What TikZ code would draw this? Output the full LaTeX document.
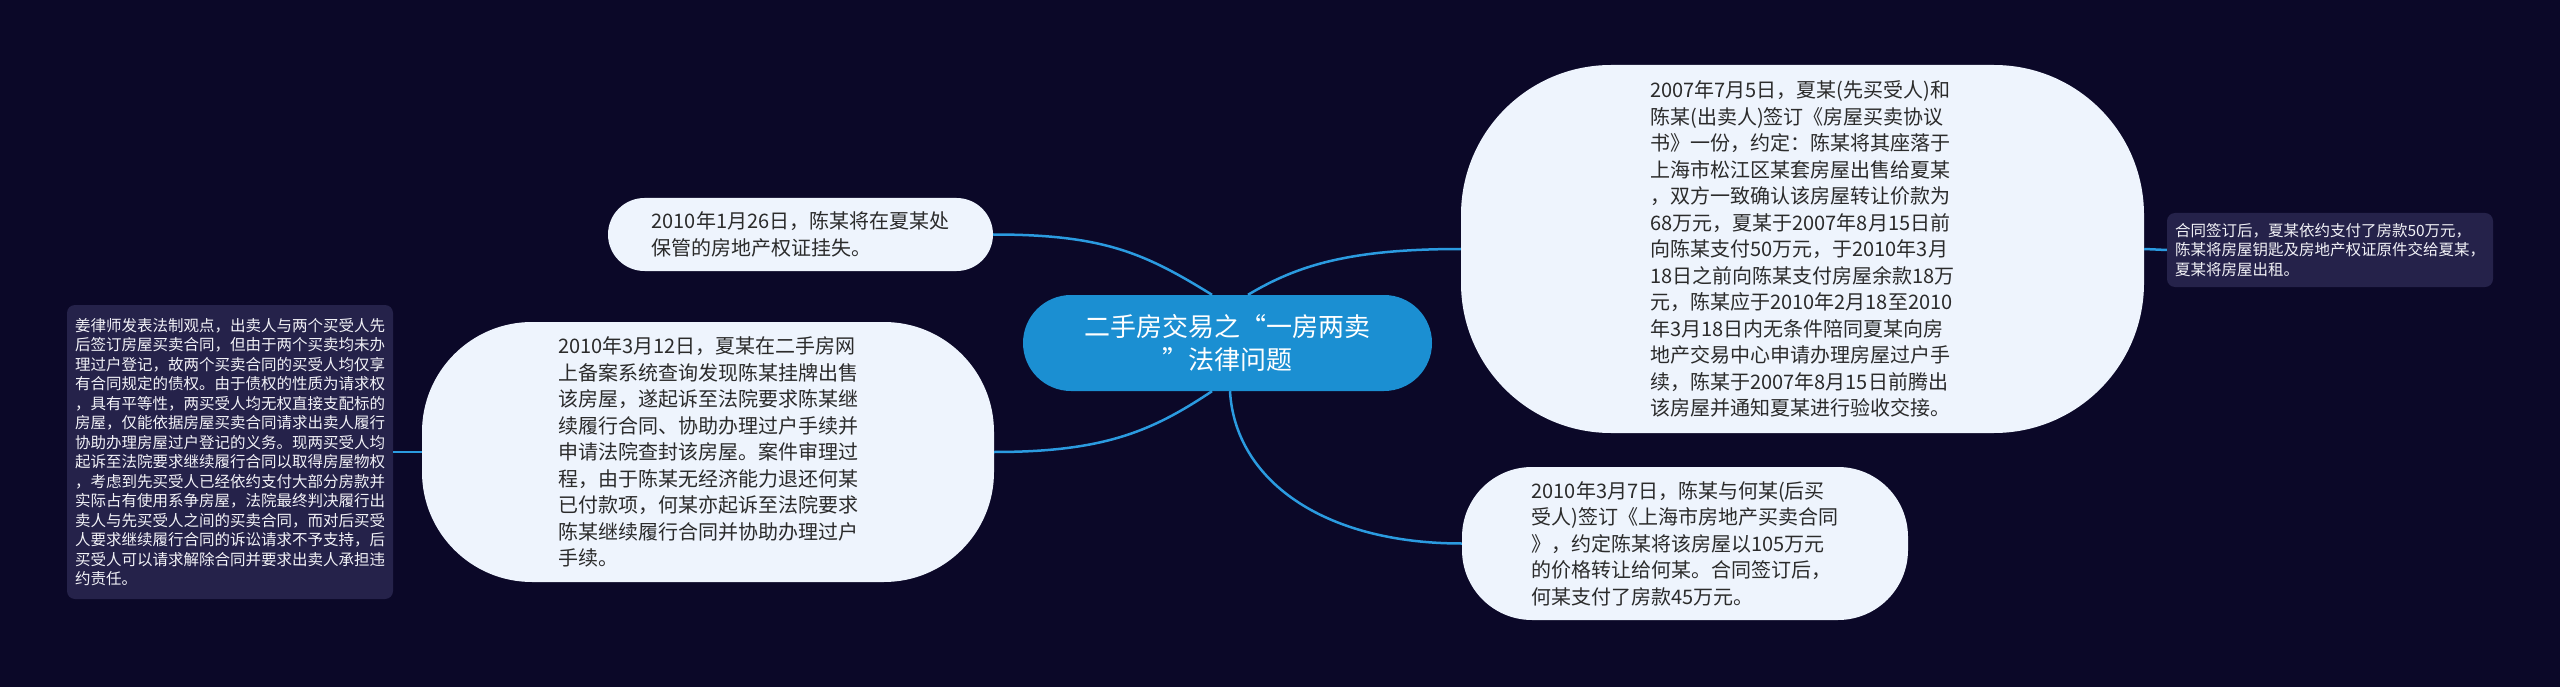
\documentclass[tikz,border=0pt]{standalone}
\usepackage{fontspec}
\setmainfont{Noto Sans CJK SC}
\definecolor{bgnavy}{HTML}{0B0828}
\definecolor{hubblue}{HTML}{1B8FD2}
\definecolor{linkblue}{HTML}{2B9BE0}
\definecolor{leaffill}{HTML}{EEF4FD}
\definecolor{leaftext}{HTML}{2B2B2B}
\definecolor{notefill}{HTML}{25224A}
\definecolor{notetext}{HTML}{F2F2F7}

\begin{document}
\begin{tikzpicture}[
    x=1pt, y=-1pt,
    topic/.style={fill=hubblue, text=white, align=center, inner sep=0pt, minimum width=409pt, minimum height=96pt, rounded corners=48pt, font=\fontsize{26}{33}\selectfont},
    leaf/.style={fill=leaffill, text=leaftext, align=left, inner sep=0pt, font=\fontsize{20}{26.5}\selectfont},
    note/.style={fill=notefill, text=notetext, align=left, inner sep=0pt, rounded corners=8pt, font=\fontsize{15.5}{19.5}\selectfont},
    link/.style={draw=linkblue, line width=2.5pt}
]
    \useasboundingbox (0,0) rectangle (2560,687);
    \fill[bgnavy] (0,0) rectangle (2560,687);

    % Root
    \node[topic] (hub) at (1227.5,343) {二手房交易之“一房两卖\\”法律问题};

    % Right side
    \node[leaf, minimum width=683pt, minimum height=368pt, rounded corners=150pt] (deal) at (1802.5,249) {2007年7月5日，夏某(先买受人)和\\陈某(出卖人)签订《房屋买卖协议\\书》一份，约定：陈某将其座落于\\上海市松江区某套房屋出售给夏某\\，双方一致确认该房屋转让价款为\\68万元，夏某于2007年8月15日前\\向陈某支付50万元，于2010年3月\\18日之前向陈某支付房屋余款18万\\元，陈某应于2010年2月18至2010\\年3月18日内无条件陪同夏某向房\\地产交易中心申请办理房屋过户手\\续，陈某于2007年8月15日前腾出\\该房屋并通知夏某进行验收交接。};
    \node[note, minimum width=326pt, minimum height=74pt] (payment) at (2330,250) {合同签订后，夏某依约支付了房款50万元，\\陈某将房屋钥匙及房地产权证原件交给夏某，\\夏某将房屋出租。};
    \node[leaf, minimum width=446pt, minimum height=153pt, rounded corners=70pt] (resale) at (1685,543.5) {2010年3月7日，陈某与何某(后买\\受人)签订《上海市房地产买卖合同\\》，约定陈某将该房屋以105万元\\的价格转让给何某。合同签订后，\\何某支付了房款45万元。};

    % Left side
    \node[leaf, minimum width=385pt, minimum height=73pt, rounded corners=36.5pt] (loss) at (800.5,234.5) {2010年1月26日，陈某将在夏某处\\保管的房地产权证挂失。};
    \node[leaf, minimum width=572pt, minimum height=260pt, rounded corners=110pt] (suit) at (708,452) {2010年3月12日，夏某在二手房网\\上备案系统查询发现陈某挂牌出售\\该房屋，遂起诉至法院要求陈某继\\续履行合同、协助办理过户手续并\\申请法院查封该房屋。案件审理过\\程，由于陈某无经济能力退还何某\\已付款项，何某亦起诉至法院要求\\陈某继续履行合同并协助办理过户\\手续。};
    \node[note, minimum width=326pt, minimum height=294pt] (opinion) at (230,452) {姜律师发表法制观点，出卖人与两个买受人先\\后签订房屋买卖合同，但由于两个买卖均未办\\理过户登记，故两个买卖合同的买受人均仅享\\有合同规定的债权。由于债权的性质为请求权\\，具有平等性，两买受人均无权直接支配标的\\房屋，仅能依据房屋买卖合同请求出卖人履行\\协助办理房屋过户登记的义务。现两买受人均\\起诉至法院要求继续履行合同以取得房屋物权\\，考虑到先买受人已经依约支付大部分房款并\\实际占有使用系争房屋，法院最终判决履行出\\卖人与先买受人之间的买卖合同，而对后买受\\人要求继续履行合同的诉讼请求不予支持，后\\买受人可以请求解除合同并要求出卖人承担违\\约责任。};

    % Links
    \draw[link] ([xshift=-15.5pt]hub.north) .. controls +(-68,-42) and +(110,0) .. (loss.east);
    \draw[link] ([xshift=20.5pt]hub.north) .. controls +(50,-30) and +(-110,0) .. (deal.west);
    \draw[link] ([xshift=-15.5pt]hub.south) .. controls +(-60,40) and +(110,0) .. (suit.east);
    \draw[link] ([xshift=2.5pt]hub.south) .. controls +(5,88) and +(-140,0) .. (resale.west);
    \draw[link] (deal.east) -- (payment.west);
    \draw[link] (suit.west) -- (opinion.east);
\end{tikzpicture}
\end{document}
